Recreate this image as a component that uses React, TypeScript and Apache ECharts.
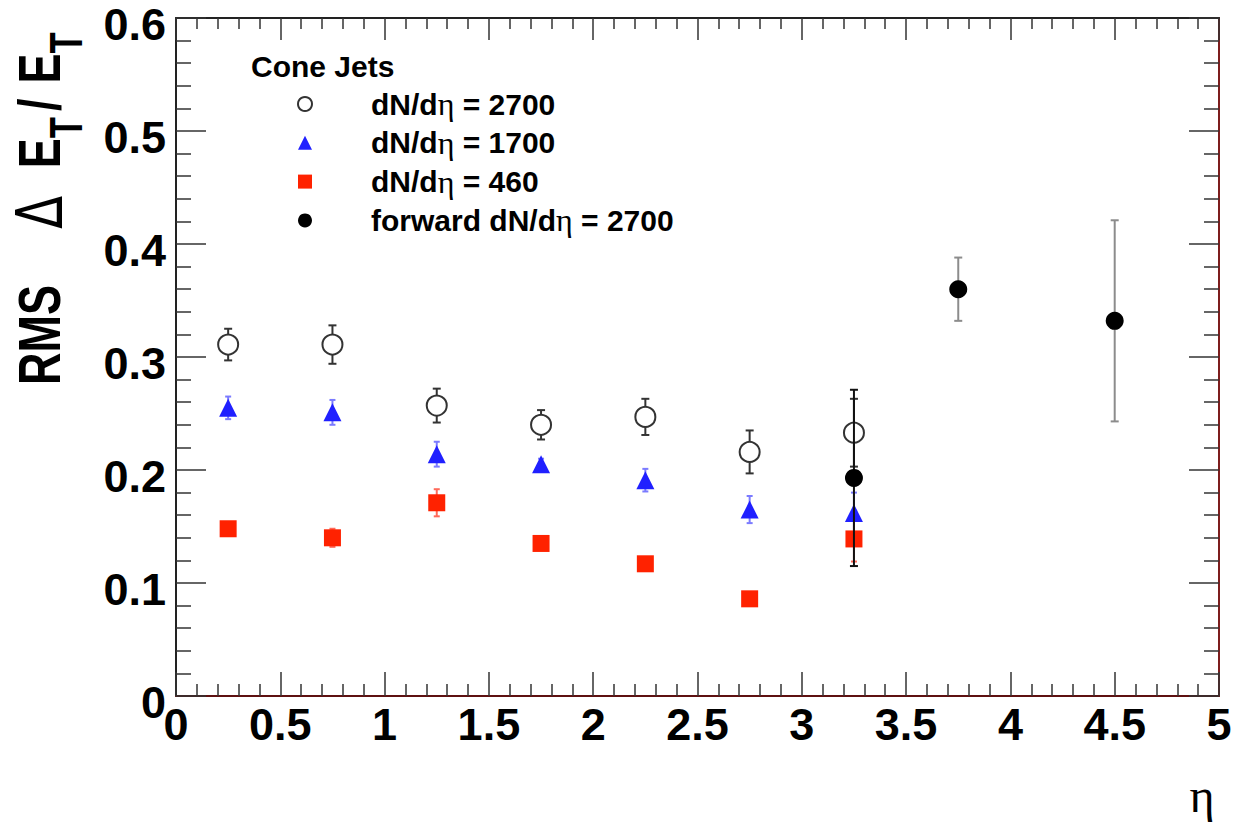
import React, { useEffect, useRef } from "react";
import * as echarts from "echarts";

// ---- data ----
const etaCentral = [0.25, 0.75, 1.25, 1.75, 2.25, 2.75, 3.25];
const rms2700 = [0.311, 0.311, 0.257, 0.24, 0.247, 0.216, 0.233];
const err2700 = [0.014, 0.017, 0.015, 0.013, 0.016, 0.019, 0.03];
const rms1700 = [0.255, 0.251, 0.214, 0.205, 0.191, 0.165, 0.162];
const err1700 = [0.01, 0.011, 0.011, 0.005, 0.01, 0.012, 0.018];
const rms460 = [0.148, 0.14, 0.171, 0.135, 0.117, 0.086, 0.139];
const err460 = [0.004, 0.008, 0.012, 0.004, 0.004, 0.003, 0.02];
const etaForward = [3.25, 3.75, 4.5];
const rmsForward = [0.193, 0.36, 0.332];
const errForward = [0.078, 0.028, 0.089];

const seriesNames = ["dN/dη = 2700", "dN/dη = 1700", "dN/dη = 460", "forward dN/dη = 2700"];
const legendTitle = "Cone Jets";
const xTitle = "η";

// ---- styles ----
const FONT = "'Liberation Sans', Arial, sans-serif";
const SERIF = "'Liberation Serif', serif";
const forwardErrColors = ["#111111", "#8c8c8c", "#8c8c8c"];

function zip(xs: number[], ys: number[]) {
  return xs.map((x, i) => [x, ys[i]]);
}

function errorBars(
  name: string,
  xs: number[],
  ys: number[],
  es: number[],
  color: string | string[],
  capHalf: number,
  width: number,
  z: number
) {
  return {
    name,
    type: "custom",
    silent: true,
    z,
    encode: { x: 0, y: 1 },
    data: xs.map((x, i) => [x, ys[i], es[i]]),
    renderItem: (params: any, api: any) => {
      const x = api.value(0);
      const y = api.value(1);
      const e = api.value(2);
      const p1 = api.coord([x, y + e]);
      const p2 = api.coord([x, y - e]);
      const c = Array.isArray(color) ? color[params.dataIndex] : color;
      const st = { stroke: c, lineWidth: width };
      return {
        type: "group",
        children: [
          { type: "line", shape: { x1: p1[0], y1: p1[1], x2: p2[0], y2: p2[1] }, style: st },
          { type: "line", shape: { x1: p1[0] - capHalf, y1: p1[1], x2: p1[0] + capHalf, y2: p1[1] }, style: st },
          { type: "line", shape: { x1: p2[0] - capHalf, y1: p2[1], x2: p2[0] + capHalf, y2: p2[1] }, style: st },
        ],
      };
    },
  };
}

export default function App() {
  const ref = useRef<HTMLDivElement>(null);
  useEffect(() => {
    if (!ref.current) return;
    const chart = echarts.init(ref.current, undefined, { renderer: "svg" });
    const tickStyle = { color: "#333", width: 1.5 };
    const labelStyle = {
      fontSize: 45,
      fontWeight: "bold" as const,
      fontFamily: FONT,
      color: "#000",
    };
    const option: any = {
      animation: false,
      backgroundColor: "#fff",
      grid: { left: 176, right: 15, top: 18, bottom: 134, containLabel: false, outerBoundsMode: "none" },
      xAxis: [
        {
          type: "value",
          min: 0,
          max: 5,
          interval: 0.5,
          position: "bottom",
          axisLine: { onZero: false, lineStyle: { color: "#5e1010", width: 2 } },
          axisTick: { inside: true, length: 24, lineStyle: tickStyle },
          minorTick: { show: true, splitNumber: 5, length: 12, lineStyle: tickStyle },
          splitLine: { show: false },
          axisLabel: { ...labelStyle, margin: 6 },
        },
        {
          type: "value",
          min: 0,
          max: 5,
          interval: 0.5,
          position: "top",
          axisLine: { onZero: false, lineStyle: { color: "#222", width: 2 } },
          axisTick: { inside: true, length: 22, lineStyle: tickStyle },
          minorTick: { show: true, splitNumber: 5, length: 11, lineStyle: tickStyle },
          splitLine: { show: false },
          axisLabel: { show: false },
        },
      ],
      yAxis: [
        {
          type: "value",
          min: 0,
          max: 0.6,
          interval: 0.1,
          position: "left",
          axisLine: { show: true, onZero: false, lineStyle: { color: "#222", width: 2 } },
          axisTick: { show: true, inside: true, length: 30, lineStyle: tickStyle },
          minorTick: { show: true, splitNumber: 5, length: 15, lineStyle: tickStyle },
          splitLine: { show: false },
          axisLabel: {
            margin: 10,
            formatter: (v: number) => `{a|${v}}`,
            rich: {
              a: { ...labelStyle, lineHeight: 46, padding: [12, 0, 0, 0] },
            },
          },
        },
        {
          type: "value",
          min: 0,
          max: 0.6,
          interval: 0.1,
          position: "right",
          axisLine: { show: true, onZero: false, lineStyle: { color: "#7d1d1d", width: 2 } },
          axisTick: { show: true, inside: true, length: 30, lineStyle: tickStyle },
          minorTick: { show: true, splitNumber: 5, length: 15, lineStyle: tickStyle },
          splitLine: { show: false },
          axisLabel: { show: false },
        },
      ],
      legend: {
        data: seriesNames,
        orient: "vertical",
        left: 297,
        top: 88,
        padding: 0,
        itemGap: 6.8,
        itemWidth: 14,
        itemHeight: 14,
        selectedMode: false,
        formatter: (name: string) => name.replace("η", "{e|η}"),
        textStyle: {
          fontSize: 30,
          fontWeight: "bold",
          fontFamily: FONT,
          color: "#000",
          lineHeight: 30,
          padding: [0, 0, 0, 54],
          rich: {
            e: { fontSize: 32, fontFamily: SERIF, fontWeight: "normal", color: "#000", lineHeight: 30 },
          },
        },
      },
      graphic: [
        {
          type: "text",
          x: 251,
          y: 66,
          style: {
            text: legendTitle,
            fontSize: 30,
            fontWeight: "bold",
            fontFamily: FONT,
            fill: "#000",
            align: "left",
            verticalAlign: "middle",
          },
        },
        {
          type: "text",
          x: 39,
          y: 385,
          rotation: Math.PI / 2,
          scaleX: 0.75,
          style: {
            text: "{m|RMS}{d|Δ}{m|E}{s|T}{sl|/}{m|E}{s|T}",
            align: "left",
            verticalAlign: "middle",
            fill: "#000",
            rich: {
              m: { fontSize: 60, fontWeight: "bold", fontFamily: FONT, fill: "#000", lineHeight: 60 },
              sl: { fontSize: 60, fontWeight: "bold", fontFamily: FONT, fill: "#000", lineHeight: 60, padding: [0, 20, 0, 8] },
              d: { fontSize: 64, fontWeight: "normal", fontFamily: "'DejaVu Sans', sans-serif", fill: "#000", lineHeight: 60, padding: [0, 37, 0, 75] },
              s: { fontSize: 46, fontWeight: "bold", fontFamily: FONT, fill: "#000", lineHeight: 46, padding: [54, 0, 0, 0] },
            },
          },
        },
        {
          type: "text",
          x: 1202,
          y: 795,
          style: {
            text: xTitle,
            fontSize: 48,
            fontFamily: SERIF,
            fill: "#000",
            align: "center",
            verticalAlign: "middle",
          },
        },
      ],
      series: [
        errorBars("err2700", etaCentral, rms2700, err2700, "#333", 4, 2, 2),
        errorBars("err1700", etaCentral, rms1700, err1700, "#7b7bff", 3, 2, 2),
        errorBars("err460", etaCentral, rms460, err460, "#ff6a5a", 3, 2, 2),
        {
          name: seriesNames[0],
          type: "scatter",
          z: 3,
          symbol: "emptyCircle",
          symbolSize: 20,
          itemStyle: { color: "#333", borderColor: "#333", borderWidth: 2, opacity: 1 },
          data: zip(etaCentral, rms2700),
        },
        {
          name: seriesNames[1],
          type: "scatter",
          z: 3,
          symbol: "triangle",
          symbolSize: 18,
          itemStyle: { color: "#2020ff", opacity: 1 },
          data: zip(etaCentral, rms1700),
        },
        {
          name: seriesNames[2],
          type: "scatter",
          z: 3,
          symbol: "rect",
          symbolSize: 17,
          itemStyle: { color: "#ff2200", opacity: 1 },
          data: zip(etaCentral, rms460),
        },
        errorBars("errForward", etaForward, rmsForward, errForward, forwardErrColors, 4, 2, 4),
        {
          name: seriesNames[3],
          type: "scatter",
          z: 5,
          symbol: "circle",
          symbolSize: 18,
          itemStyle: { color: "#000", opacity: 1 },
          data: zip(etaForward, rmsForward),
        },
      ],
    };
    chart.setOption(option);
    return () => chart.dispose();
  }, []);
  return (
    <div
      ref={ref}
      style={{ position: "absolute", left: 0, top: 0, width: 1234, height: 830 }}
    />
  );
}
